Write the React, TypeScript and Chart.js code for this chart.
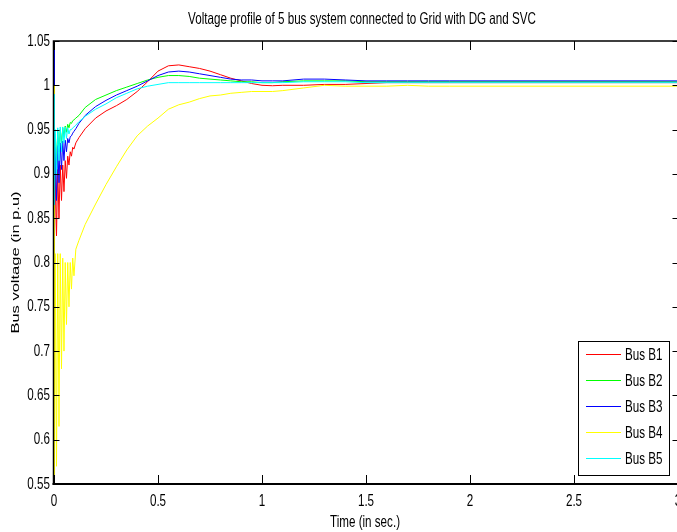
import React, { useEffect, useRef } from "react";
import { Chart, registerables } from "chart.js";

Chart.register(...registerables);

// ---------------- data ----------------
const TIME = [
  0, 0.002, 0.006, 0.012, 0.018, 0.024, 0.03, 0.036, 0.042, 0.048,
  0.054, 0.06, 0.066, 0.072, 0.078, 0.084, 0.09, 0.096, 0.105,
  0.12, 0.15, 0.2, 0.25, 0.3, 0.35, 0.4, 0.45, 0.5, 0.55,
  0.6, 0.65, 0.7, 0.75, 0.8, 0.85, 0.9, 0.95, 1.0, 1.05,
  1.1, 1.2, 1.3, 1.4, 1.5, 1.6, 1.7, 1.8, 1.9, 2.0,
  2.25, 2.5, 2.75, 3.0,
];

const BUS_B1 = [
  1.045, 0.82, 0.9, 0.83, 0.905, 0.85, 0.91, 0.87, 0.91, 0.88,
  0.915, 0.895, 0.92, 0.91, 0.925, 0.92, 0.93, 0.928, 0.935,
  0.941, 0.951, 0.963, 0.971, 0.977, 0.984, 0.993, 1.004, 1.016, 1.022,
  1.023, 1.021, 1.019, 1.016, 1.012, 1.008, 1.005, 1.002, 1.0, 0.9995,
  1.0, 1.0, 1.001, 1.001, 1.002, 1.003, 1.003, 1.003, 1.003, 1.003,
  1.003, 1.003, 1.003, 1.003,
];

const BUS_B2 = [
  1.035, 0.88, 0.945, 0.91, 0.948, 0.925, 0.95, 0.935, 0.952, 0.942,
  0.954, 0.947, 0.956, 0.952, 0.958, 0.957, 0.96, 0.961, 0.963,
  0.966, 0.975, 0.984, 0.989, 0.994, 0.998, 1.002, 1.006, 1.009, 1.011,
  1.011, 1.01, 1.008, 1.007, 1.006, 1.005, 1.004, 1.004, 1.003, 1.003,
  1.004, 1.005, 1.005, 1.005, 1.004, 1.004, 1.004, 1.004, 1.004, 1.004,
  1.004, 1.004, 1.004, 1.004,
];

const BUS_B3 = [
  1.04, 0.85, 0.93, 0.87, 0.932, 0.89, 0.935, 0.905, 0.937, 0.915,
  0.938, 0.925, 0.94, 0.935, 0.942, 0.943, 0.946, 0.948, 0.951,
  0.957, 0.966, 0.976, 0.983, 0.989, 0.994, 0.999, 1.005, 1.011, 1.015,
  1.016, 1.015, 1.013, 1.011, 1.009, 1.007, 1.006, 1.006, 1.005, 1.005,
  1.005, 1.007, 1.007, 1.006, 1.005, 1.005, 1.005, 1.005, 1.005, 1.005,
  1.005, 1.005, 1.005, 1.005,
];

const BUS_B4 = [
  1.0, 0.555, 0.81, 0.57, 0.81, 0.615, 0.81, 0.68, 0.805, 0.7,
  0.8, 0.73, 0.8, 0.75, 0.8, 0.77, 0.805, 0.785, 0.815,
  0.825, 0.843, 0.866, 0.888, 0.908, 0.927, 0.943, 0.954, 0.963, 0.973,
  0.978, 0.981, 0.985, 0.988, 0.989, 0.991, 0.992, 0.993, 0.993, 0.993,
  0.994, 0.997, 1.0, 0.999, 0.999, 0.999, 1.0, 0.999, 0.999, 0.999,
  0.999, 0.999, 0.999, 0.999,
];

const BUS_B5 = [
  0.99, 0.865, 0.95, 0.9, 0.952, 0.915, 0.953, 0.925, 0.953, 0.935,
  0.953, 0.94, 0.952, 0.945, 0.95, 0.95, 0.952, 0.953, 0.955,
  0.959, 0.965, 0.973, 0.979, 0.986, 0.991, 0.996, 0.999, 1.001, 1.003,
  1.003, 1.003, 1.003, 1.003, 1.003, 1.003, 1.003, 1.003, 1.003, 1.003,
  1.003, 1.004, 1.004, 1.004, 1.003, 1.003, 1.003, 1.003, 1.003, 1.003,
  1.003, 1.003, 1.003, 1.003,
];

const SERIES_LABELS = ["Bus B1", "Bus B2", "Bus B3", "Bus B4", "Bus B5"];
const SERIES_VALUES = [BUS_B1, BUS_B2, BUS_B3, BUS_B4, BUS_B5];
const SERIES_COLORS = ["#ff0000", "#00ff00", "#0000ff", "#ffff00", "#00ffff"];

const X_TICKS = [0, 0.5, 1, 1.5, 2, 2.5, 3];
const Y_TICKS = [0.55, 0.6, 0.65, 0.7, 0.75, 0.8, 0.85, 0.9, 0.95, 1, 1.05];

const TITLE = "Voltage profile of 5 bus system connected to Grid with DG and SVC";
const X_LABEL = "Time (in sec.)";
const Y_LABEL = "Bus voltage (in p.u)";

// ---------------- styling ----------------
const SX = 0.705; // horizontal squeeze of text (narrow, tall glyphs)
const FONT = '16.5px "Liberation Sans", Arial, sans-serif';

function drawText(
  ctx: CanvasRenderingContext2D,
  s: string,
  x: number,
  y: number,
  align: CanvasTextAlign,
  baseline: CanvasTextBaseline,
  rotate = false
) {
  ctx.save();
  ctx.translate(x, y);
  ctx.scale(SX, 1);
  if (rotate) ctx.rotate(-Math.PI / 2);
  ctx.font = FONT;
  ctx.fillStyle = "#000";
  ctx.textAlign = align;
  ctx.textBaseline = baseline;
  ctx.fillText(s, 0, 0);
  ctx.restore();
}

const framePlugin = {
  id: "matlabFrame",
  afterDatasetsDraw(chart: any) {
    const { ctx, chartArea: a } = chart;
    const xs = chart.scales.x;
    const ys = chart.scales.y;
    ctx.save();
    ctx.strokeStyle = "#000";
    ctx.lineWidth = 1;
    ctx.beginPath();
    for (const v of X_TICKS) {
      const px = Math.round(xs.getPixelForValue(v)) + 0.5;
      ctx.moveTo(px, a.bottom);
      ctx.lineTo(px, a.bottom - 9);
      ctx.moveTo(px, a.top);
      ctx.lineTo(px, a.top + 9);
    }
    for (const v of Y_TICKS) {
      const py = Math.round(ys.getPixelForValue(v)) + 0.5;
      ctx.moveTo(a.left, py);
      ctx.lineTo(a.left + 5.5, py);
      ctx.moveTo(a.right, py);
      ctx.lineTo(a.right - 5.5, py);
    }
    ctx.stroke();
    // box
    ctx.lineWidth = 1.5;
    ctx.strokeRect(a.left - 0.5, a.top, a.right - a.left + 0.5, a.bottom - a.top);
    ctx.lineWidth = 2;
    ctx.beginPath();
    ctx.moveTo(a.left - 1.5, a.bottom);
    ctx.lineTo(a.right, a.bottom);
    ctx.stroke();
    ctx.restore();
  },
  afterDraw(chart: any) {
    const { ctx, chartArea: a } = chart;
    const xs = chart.scales.x;
    const ys = chart.scales.y;

    // tick labels
    for (const v of X_TICKS) {
      drawText(ctx, String(v), xs.getPixelForValue(v), a.bottom + 17, "center", "middle");
    }
    for (const v of Y_TICKS) {
      drawText(ctx, String(v), a.left - 4, ys.getPixelForValue(v), "right", "middle");
    }

    // titles
    drawText(ctx, TITLE, 362, 19, "center", "middle");
    drawText(ctx, X_LABEL, 365, 522, "center", "middle");
    drawText(ctx, Y_LABEL, 16, (a.top + a.bottom) / 2, "center", "middle", true);

    // legend box
    const L = { left: 578, top: 341, right: 669, bottom: 475 };
    ctx.save();
    ctx.fillStyle = "#fff";
    ctx.fillRect(L.left, L.top, L.right - L.left, L.bottom - L.top);
    ctx.strokeStyle = "#000";
    ctx.lineWidth = 1;
    ctx.strokeRect(L.left + 0.5, L.top + 0.5, L.right - L.left, L.bottom - L.top);
    chart.data.datasets.forEach((ds: any, i: number) => {
      const y = 354 + i * 26;
      ctx.strokeStyle = ds.borderColor;
      ctx.lineWidth = 1;
      ctx.beginPath();
      ctx.moveTo(586, y + 0.5);
      ctx.lineTo(621, y + 0.5);
      ctx.stroke();
      drawText(ctx, ds.label, 625, y + 1, "left", "middle");
    });
    ctx.restore();
  },
};

export default function App() {
  const ref = useRef<HTMLCanvasElement>(null);

  useEffect(() => {
    if (!ref.current) return;
    const datasets = SERIES_LABELS.map((label, k) => ({
      label,
      data: TIME.map((t, i) => ({ x: t, y: SERIES_VALUES[k][i] })),
      borderColor: SERIES_COLORS[k],
      backgroundColor: SERIES_COLORS[k],
      borderWidth: 1,
      pointRadius: 0,
      tension: 0,
      fill: false,
      order: 5 - k,
    }));

    const chart = new Chart(ref.current, {
      type: "line",
      data: { datasets },
      options: {
        animation: false,
        responsive: false,
        maintainAspectRatio: false,
        devicePixelRatio: 1,
        layout: { padding: { top: 41, right: 22, left: 0, bottom: 0 } },
        plugins: {
          legend: { display: false },
          title: { display: false },
          tooltip: { enabled: false },
        },
        scales: {
          x: {
            type: "linear",
            min: 0,
            max: 3,
            grid: { display: false, drawTicks: false },
            border: { display: false },
            ticks: { display: false, stepSize: 0.5 },
            afterFit: (s: any) => {
              s.height = 48;
            },
          },
          y: {
            type: "linear",
            min: 0.55,
            max: 1.05,
            grid: { display: false, drawTicks: false },
            border: { display: false },
            ticks: { display: false, stepSize: 0.05 },
            afterFit: (s: any) => {
              s.width = 54;
            },
          },
        },
      },
      plugins: [framePlugin],
    });
    return () => chart.destroy();
  }, []);

  return (
    <div
      style={{
        position: "fixed",
        left: 0,
        top: 0,
        width: 677,
        height: 532,
        overflow: "hidden",
        background: "#fff",
      }}
    >
      <canvas
        ref={ref}
        width={700}
        height={532}
        style={{ display: "block", width: 700, height: 532 }}
      />
    </div>
  );
}
